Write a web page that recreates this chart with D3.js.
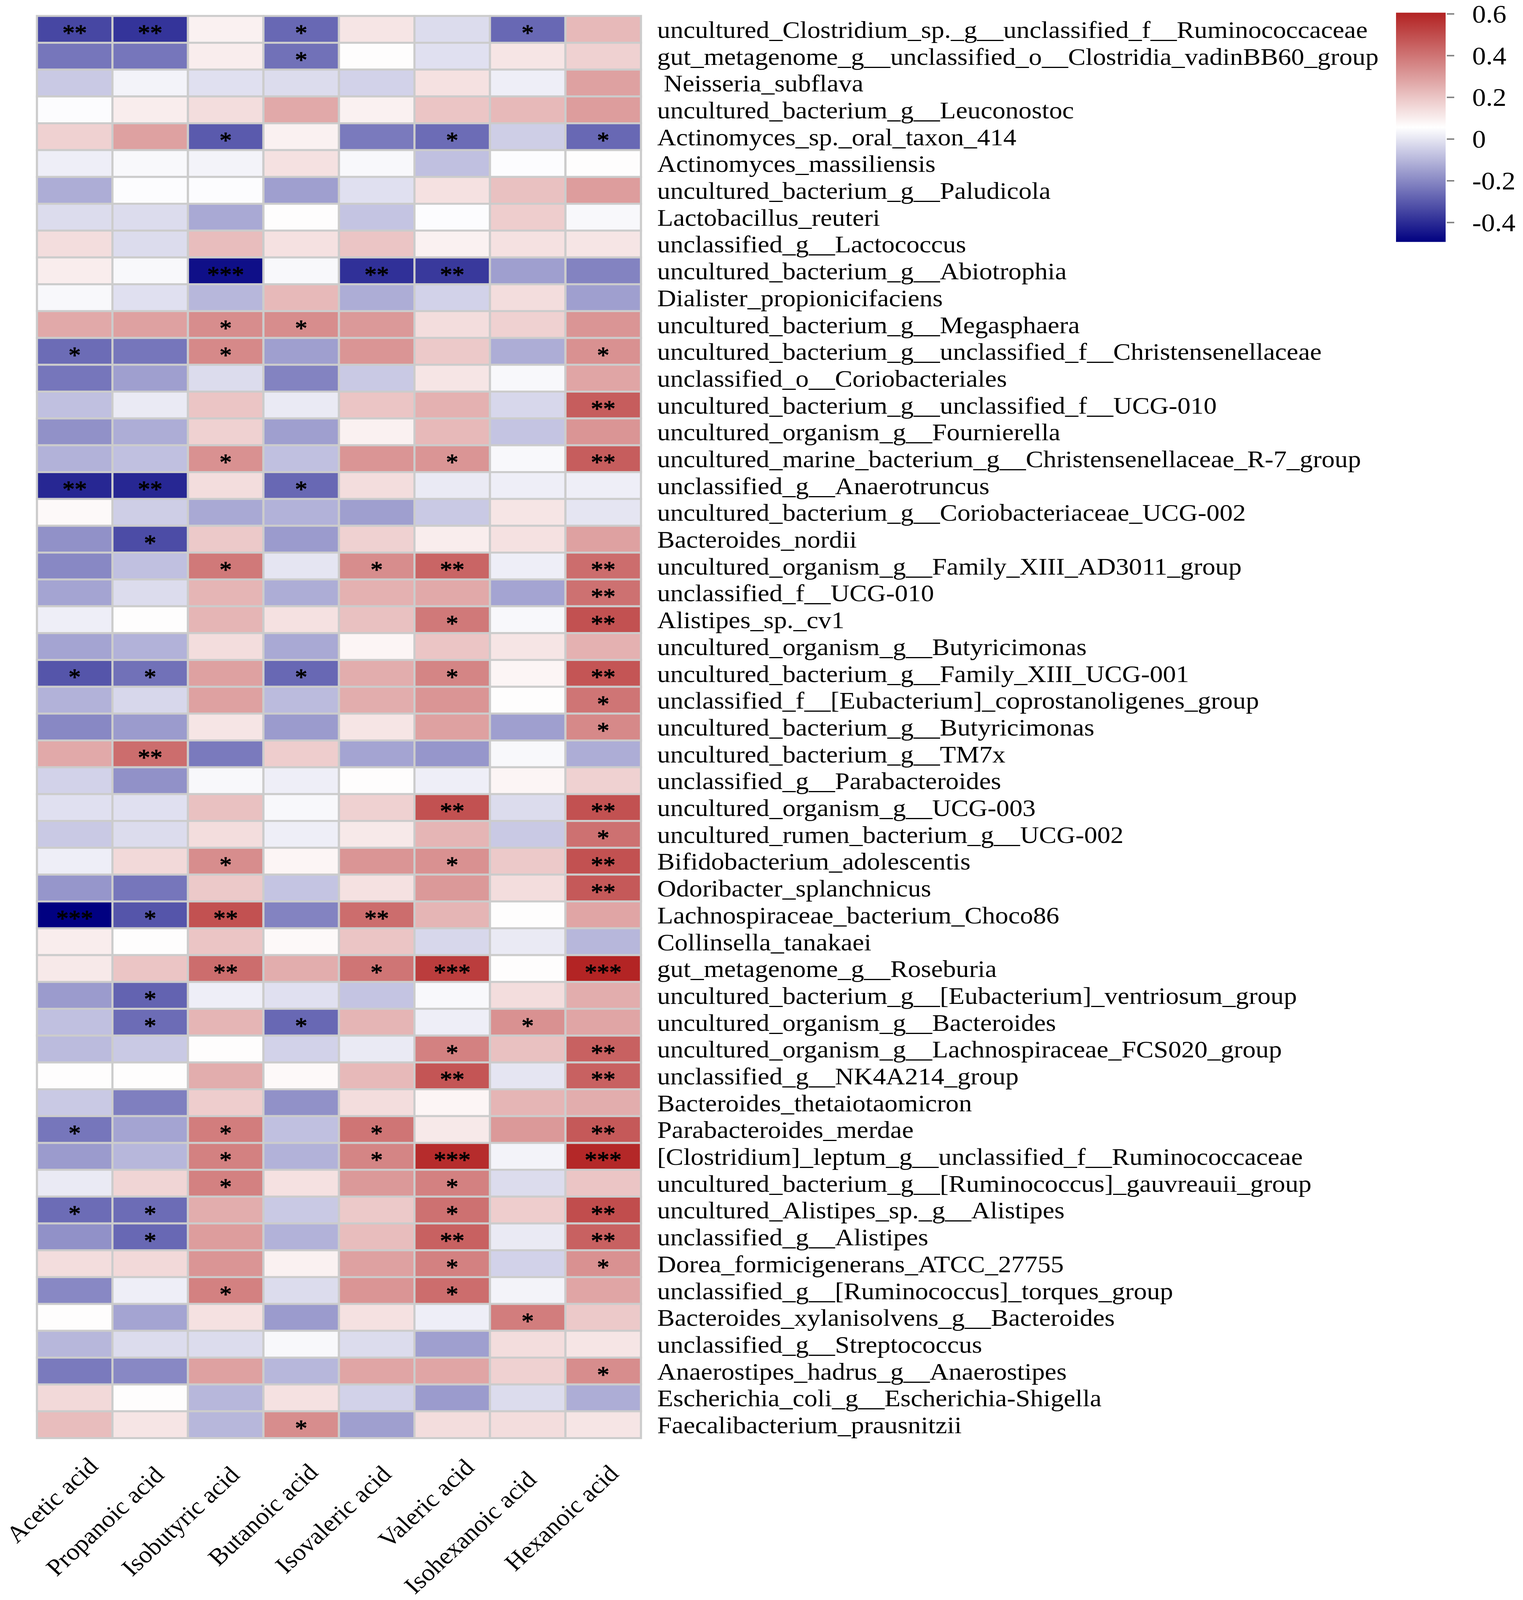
<!DOCTYPE html>
<html>
<head>
<meta charset="utf-8">
<script src="https://cdn.jsdelivr.net/npm/d3@7"></script>
<style>
  html, body { margin: 0; padding: 0; background: #ffffff; overflow: hidden; }
  svg { display: block; }
  text { font-family: "Liberation Serif", "Times New Roman", serif; }
</style>
</head>
<body>
<svg id="chart"></svg>
<script>
// ---------------- DATA ----------------
const acids = ["Acetic acid", "Propanoic acid", "Isobutyric acid", "Butanoic acid",
               "Isovaleric acid", "Valeric acid", "Isohexanoic acid", "Hexanoic acid"];

const taxa = [
  "uncultured_Clostridium_sp._g__unclassified_f__Ruminococcaceae",
  "gut_metagenome_g__unclassified_o__Clostridia_vadinBB60_group",
  " Neisseria_subflava",
  "uncultured_bacterium_g__Leuconostoc",
  "Actinomyces_sp._oral_taxon_414",
  "Actinomyces_massiliensis",
  "uncultured_bacterium_g__Paludicola",
  "Lactobacillus_reuteri",
  "unclassified_g__Lactococcus",
  "uncultured_bacterium_g__Abiotrophia",
  "Dialister_propionicifaciens",
  "uncultured_bacterium_g__Megasphaera",
  "uncultured_bacterium_g__unclassified_f__Christensenellaceae",
  "unclassified_o__Coriobacteriales",
  "uncultured_bacterium_g__unclassified_f__UCG-010",
  "uncultured_organism_g__Fournierella",
  "uncultured_marine_bacterium_g__Christensenellaceae_R-7_group",
  "unclassified_g__Anaerotruncus",
  "uncultured_bacterium_g__Coriobacteriaceae_UCG-002",
  "Bacteroides_nordii",
  "uncultured_organism_g__Family_XIII_AD3011_group",
  "unclassified_f__UCG-010",
  "Alistipes_sp._cv1",
  "uncultured_organism_g__Butyricimonas",
  "uncultured_bacterium_g__Family_XIII_UCG-001",
  "unclassified_f__[Eubacterium]_coprostanoligenes_group",
  "uncultured_bacterium_g__Butyricimonas",
  "uncultured_bacterium_g__TM7x",
  "unclassified_g__Parabacteroides",
  "uncultured_organism_g__UCG-003",
  "uncultured_rumen_bacterium_g__UCG-002",
  "Bifidobacterium_adolescentis",
  "Odoribacter_splanchnicus",
  "Lachnospiraceae_bacterium_Choco86",
  "Collinsella_tanakaei",
  "gut_metagenome_g__Roseburia",
  "uncultured_bacterium_g__[Eubacterium]_ventriosum_group",
  "uncultured_organism_g__Bacteroides",
  "uncultured_organism_g__Lachnospiraceae_FCS020_group",
  "unclassified_g__NK4A214_group",
  "Bacteroides_thetaiotaomicron",
  "Parabacteroides_merdae",
  "[Clostridium]_leptum_g__unclassified_f__Ruminococcaceae",
  "uncultured_bacterium_g__[Ruminococcus]_gauvreauii_group",
  "uncultured_Alistipes_sp._g__Alistipes",
  "unclassified_g__Alistipes",
  "Dorea_formicigenerans_ATCC_27755",
  "unclassified_g__[Ruminococcus]_torques_group",
  "Bacteroides_xylanisolvens_g__Bacteroides",
  "unclassified_g__Streptococcus",
  "Anaerostipes_hadrus_g__Anaerostipes",
  "Escherichia_coli_g__Escherichia-Shigella",
  "Faecalibacterium_prausnitzii"
];

// correlation values, one row per taxon, columns in the order of `acids`
const corr = [
  [-0.34,-0.38, 0.09,-0.27, 0.12,-0.02,-0.27, 0.23],
  [-0.24,-0.24, 0.10,-0.25, 0.06,-0.01, 0.12, 0.17],
  [-0.06, 0.03,-0.01,-0.02,-0.04, 0.13, 0.02, 0.29],
  [ 0.05, 0.10, 0.14, 0.27, 0.09, 0.20, 0.23, 0.30],
  [ 0.17, 0.29,-0.30, 0.09,-0.23,-0.26,-0.05,-0.27],
  [ 0.02, 0.04, 0.03, 0.13, 0.04,-0.08, 0.05, 0.06],
  [-0.12, 0.05, 0.05,-0.15,-0.01, 0.13, 0.21, 0.30],
  [-0.02,-0.02,-0.13, 0.06,-0.07, 0.05, 0.18, 0.04],
  [ 0.14,-0.02, 0.22, 0.13, 0.20, 0.09, 0.13, 0.12],
  [ 0.10, 0.04,-0.46, 0.04,-0.39,-0.37,-0.15,-0.21],
  [ 0.04,-0.01,-0.10, 0.23,-0.12,-0.04, 0.14,-0.15],
  [ 0.27, 0.29, 0.34, 0.34, 0.31, 0.14, 0.17, 0.32],
  [-0.26,-0.24, 0.35,-0.15, 0.32, 0.19,-0.12, 0.33],
  [-0.24,-0.15,-0.02,-0.21,-0.06, 0.12, 0.04, 0.28],
  [-0.08, 0.01, 0.20, 0.01, 0.20, 0.25,-0.03, 0.46],
  [-0.18,-0.12, 0.17,-0.15, 0.09, 0.23,-0.07, 0.32],
  [-0.11,-0.08, 0.33,-0.08, 0.32, 0.32, 0.04, 0.46],
  [-0.41,-0.41, 0.14,-0.27, 0.14, 0.01, 0.02, 0.02],
  [ 0.07,-0.05,-0.13,-0.11,-0.15,-0.06, 0.12, 0.00],
  [-0.18,-0.33, 0.19,-0.16, 0.17, 0.10, 0.13, 0.29],
  [-0.20,-0.08, 0.39, 0.00, 0.34, 0.44, 0.02, 0.42],
  [-0.14,-0.02, 0.24,-0.12, 0.25, 0.27,-0.14, 0.41],
  [ 0.02, 0.06, 0.24, 0.13, 0.21, 0.39, 0.04, 0.49],
  [-0.14,-0.11, 0.14,-0.13, 0.08, 0.20, 0.12, 0.25],
  [-0.31,-0.25, 0.29,-0.27, 0.26, 0.36, 0.08, 0.48],
  [-0.11,-0.03, 0.29,-0.09, 0.26, 0.32, 0.06, 0.40],
  [-0.20,-0.16, 0.12,-0.16, 0.12, 0.29,-0.15, 0.35],
  [ 0.27, 0.42,-0.23, 0.18,-0.14,-0.17, 0.04,-0.12],
  [-0.04,-0.18, 0.04, 0.02, 0.06, 0.02, 0.08, 0.17],
  [-0.01,-0.01, 0.21, 0.04, 0.17, 0.49,-0.02, 0.49],
  [-0.06,-0.02, 0.14, 0.02, 0.11, 0.24,-0.06, 0.41],
  [ 0.02, 0.15, 0.34, 0.08, 0.32, 0.33, 0.19, 0.49],
  [-0.17,-0.24, 0.19,-0.07, 0.13, 0.31, 0.14, 0.47],
  [-0.49,-0.31, 0.49,-0.21, 0.42, 0.24, 0.06, 0.28],
  [ 0.10, 0.06, 0.20, 0.07, 0.20,-0.03, 0.01,-0.10],
  [ 0.11, 0.20, 0.42, 0.26, 0.40, 0.54, 0.06, 0.60],
  [-0.16,-0.28, 0.02,-0.01,-0.07, 0.04, 0.14, 0.26],
  [-0.08,-0.26, 0.24,-0.27, 0.24, 0.02, 0.33, 0.28],
  [-0.09,-0.06, 0.06,-0.04, 0.01, 0.37, 0.21, 0.45],
  [ 0.06, 0.06, 0.26, 0.07, 0.23, 0.48, 0.00, 0.45],
  [-0.06,-0.22, 0.18,-0.18, 0.14, 0.08, 0.24, 0.26],
  [-0.24,-0.14, 0.38,-0.08, 0.40, 0.11, 0.31, 0.47],
  [-0.16,-0.10, 0.37,-0.11, 0.36, 0.58, 0.03, 0.59],
  [ 0.01, 0.16, 0.37, 0.13, 0.31, 0.37,-0.02, 0.20],
  [-0.26,-0.26, 0.26,-0.06, 0.19, 0.41, 0.18, 0.50],
  [-0.18,-0.27, 0.30,-0.11, 0.22, 0.45, 0.01, 0.45],
  [ 0.14, 0.15, 0.32, 0.09, 0.29, 0.37,-0.04, 0.33],
  [-0.20, 0.02, 0.37,-0.02, 0.32, 0.42, 0.03, 0.28],
  [ 0.06,-0.14, 0.13,-0.16, 0.13, 0.02, 0.38, 0.19],
  [-0.10,-0.02,-0.02, 0.04,-0.02,-0.15, 0.14, 0.12],
  [-0.23,-0.20, 0.29,-0.10, 0.28, 0.28, 0.17, 0.34],
  [ 0.15, 0.06,-0.10, 0.13,-0.04,-0.16,-0.02,-0.12],
  [ 0.22, 0.12,-0.10, 0.34,-0.15, 0.14, 0.14, 0.12]
];

// significance marks, same layout as corr
const stars = [
  ["**","**","","*","","","*",""],
  ["","","","*","","","",""],
  ["","","","","","","",""],
  ["","","","","","","",""],
  ["","","*","","","*","","*"],
  ["","","","","","","",""],
  ["","","","","","","",""],
  ["","","","","","","",""],
  ["","","","","","","",""],
  ["","","***","","**","**","",""],
  ["","","","","","","",""],
  ["","","*","*","","","",""],
  ["*","","*","","","","","*"],
  ["","","","","","","",""],
  ["","","","","","","","**"],
  ["","","","","","","",""],
  ["","","*","","","*","","**"],
  ["**","**","","*","","","",""],
  ["","","","","","","",""],
  ["","*","","","","","",""],
  ["","","*","","*","**","","**"],
  ["","","","","","","","**"],
  ["","","","","","*","","**"],
  ["","","","","","","",""],
  ["*","*","","*","","*","","**"],
  ["","","","","","","","*"],
  ["","","","","","","","*"],
  ["","**","","","","","",""],
  ["","","","","","","",""],
  ["","","","","","**","","**"],
  ["","","","","","","","*"],
  ["","","*","","","*","","**"],
  ["","","","","","","","**"],
  ["***","*","**","","**","","",""],
  ["","","","","","","",""],
  ["","","**","","*","***","","***"],
  ["","*","","","","","",""],
  ["","*","","*","","","*",""],
  ["","","","","","*","","**"],
  ["","","","","","**","","**"],
  ["","","","","","","",""],
  ["*","","*","","*","","","**"],
  ["","","*","","*","***","","***"],
  ["","","*","","","*","",""],
  ["*","*","","","","*","","**"],
  ["","*","","","","**","","**"],
  ["","","","","","*","","*"],
  ["","","*","","","*","",""],
  ["","","","","","","*",""],
  ["","","","","","","",""],
  ["","","","","","","","*"],
  ["","","","","","","",""],
  ["","","","*","","","",""]
];

const legendTicks = [-0.4, -0.2, 0, 0.2, 0.4, 0.6];
const legendTickLabels = ["-0.4", "-0.2", "0", "0.2", "0.4", "0.6"];
const colorDomain = [-0.493, 0.056, 0.606];
const colorRange = ["#000080", "#ffffff", "#b22222"];

// ---------------- LAYOUT ----------------
const VW = 3898, VH = 4418;
const winW = window.innerWidth || VW, winH = window.innerHeight || VH;
const svg = d3.select("#chart")
  .attr("width", winW)
  .attr("height", winH)
  .attr("viewBox", `0 0 ${VW} ${VH}`)
  .attr("preserveAspectRatio", "none");
svg.append("rect").attr("width", VW).attr("height", VH).attr("fill", "#ffffff");

const gridLeft = 94.5, gridRight = 1640.5, gridTop = 44, gridBottom = 3971;

const x = d3.scaleBand().domain(d3.range(acids.length)).range([gridLeft, gridRight]).padding(0);
const y = d3.scaleBand().domain(d3.range(taxa.length)).range([gridTop, gridBottom]).padding(0);
const color = d3.scaleLinear().domain(colorDomain).range(colorRange).interpolate(d3.interpolateRgb).clamp(true);

const cells = [];
corr.forEach((row, i) => row.forEach((v, j) => cells.push({ i, j, v, s: stars[i][j] })));

svg.append("g").selectAll("rect")
  .data(cells)
  .join("rect")
  .attr("x", d => x(d.j))
  .attr("y", d => y(d.i))
  .attr("width", x.bandwidth())
  .attr("height", y.bandwidth())
  .attr("fill", d => color(d.v))
  .attr("stroke", "#cccccc")
  .attr("stroke-width", 5.5);

svg.append("g").selectAll("text")
  .data(cells.filter(d => d.s))
  .join("text")
  .attr("x", d => x(d.j) + x.bandwidth() / 2)
  .attr("y", d => y(d.i) + y.bandwidth() / 2)
  .attr("dy", "0.5em")
  .attr("text-anchor", "middle")
  .attr("font-size", 63)
  .attr("fill", "#000000")
  .attr("stroke", "#000000")
  .attr("stroke-width", 1.4)
  .text(d => d.s);

// row labels
const rowLabelSize = 66;
const rowLabels = svg.append("g").selectAll("text")
  .data(taxa)
  .join("text")
  .attr("x", 1682)
  .attr("y", (d, i) => y(i) + y.bandwidth() / 2)
  .attr("dy", "0.35em")
  .attr("font-size", rowLabelSize)
  .attr("fill", "#000000")
  .style("white-space", "pre")
  .text(d => d);

const firstW = rowLabels.nodes()[0].getComputedTextLength();
if (firstW > 0) {
  rowLabels.attr("font-size", rowLabelSize * 1818 / firstW);
}

// column labels (rotated 45 degrees, right-justified under each column)
svg.append("g").selectAll("text")
  .data(acids)
  .join("text")
  .attr("transform", (d, j) => `translate(${x(j) + x.bandwidth() / 2 + 12},${gridBottom + 69}) rotate(-45)`)
  .attr("dy", "0.683em")
  .attr("text-anchor", "end")
  .attr("font-size", 66)
  .attr("fill", "#000000")
  .text(d => d)
  .attr("x", function () {
    const L = this.getComputedTextLength();
    return 27 - 0.36 * (L - 300);
  });

// ---------------- LEGEND ----------------
const legX = 3573, legW = 127, legTop = 35, legBottom = 668;
const ly = d3.scaleLinear().domain([colorDomain[0], colorDomain[2]]).range([legBottom, legTop]);

const grad = svg.append("defs").append("linearGradient")
  .attr("id", "legGrad")
  .attr("x1", 0).attr("y1", 1).attr("x2", 0).attr("y2", 0);
grad.selectAll("stop")
  .data(d3.range(0, 1.0001, 0.05))
  .join("stop")
  .attr("offset", t => t)
  .attr("stop-color", t => color(colorDomain[0] + t * (colorDomain[2] - colorDomain[0])));

svg.append("rect")
  .attr("x", legX).attr("y", legTop)
  .attr("width", legW).attr("height", legBottom - legTop)
  .attr("fill", "url(#legGrad)");

const legAxis = svg.append("g");
legAxis.selectAll("line")
  .data(legendTicks)
  .join("line")
  .attr("x1", legX + legW + 3).attr("x2", legX + legW + 22)
  .attr("y1", d => ly(d)).attr("y2", d => ly(d))
  .attr("stroke", "#808080").attr("stroke-width", 4);

legAxis.selectAll("text")
  .data(legendTicks)
  .join("text")
  .attr("x", 3768)
  .attr("y", d => ly(d))
  .attr("dy", "0.34em")
  .attr("font-size", 70)
  .attr("fill", "#000000")
  .text((d, i) => legendTickLabels[i]);
</script>
</body>
</html>
